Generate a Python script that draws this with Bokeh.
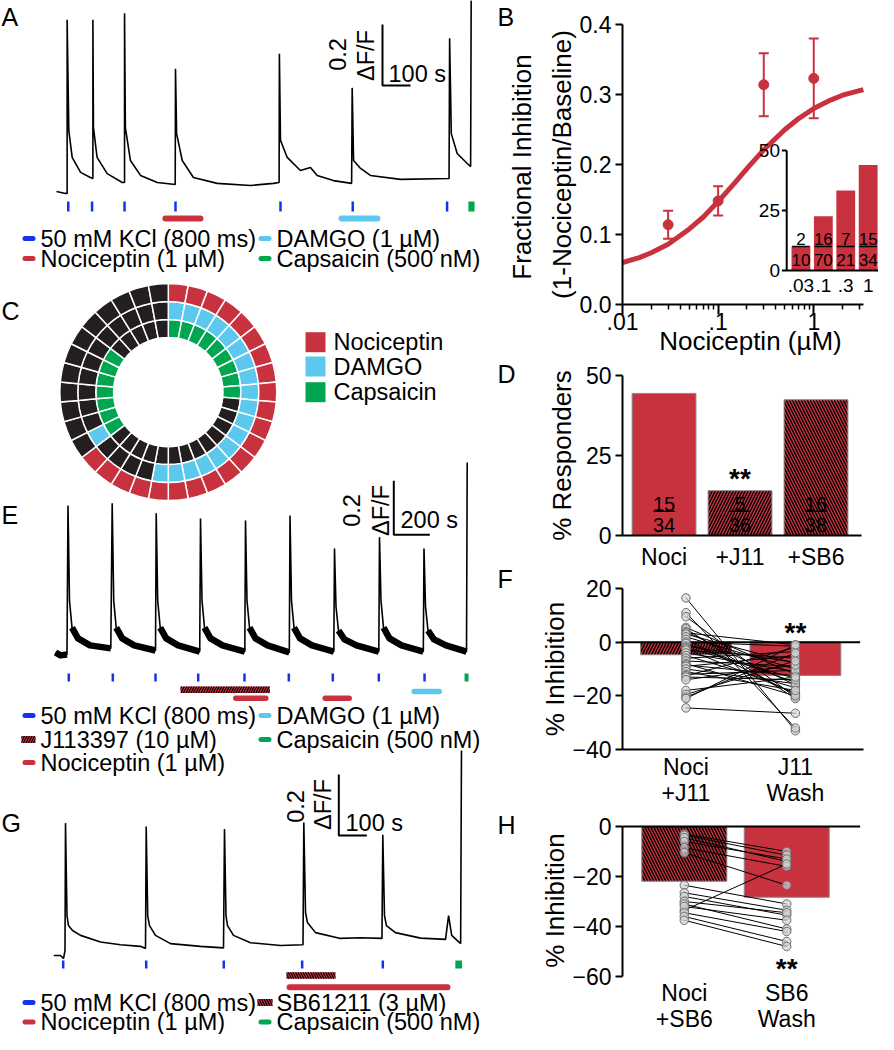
import math
from bokeh.plotting import figure
from bokeh.layouts import row, column
from bokeh.models import (Range1d, FixedTicker, Whisker, TeeHead,
                          ColumnDataSource, LinearScale)
from bokeh.core.properties import value
from bokeh.embed import file_html
from bokeh.resources import INLINE

FONT = "Liberation Sans"
RED = "#C8323F"
BLUE = "#1432F0"
LBLUE = "#5CC8EE"
GREEN = "#00A650"
DARK = "#231F20"

# ------------------------------------------------------------------ data
# Panel A : calcium trace (time in s, dF/F)
a_time = [0, 32, 38, 38, 44, 56, 86, 121, 130, 130, 132, 145, 181, 235, 243, 243, 246, 264,
          300, 360, 424, 425, 429, 449, 489, 574, 693, 775, 795, 796, 800, 824, 871, 907, 931,
          989, 1054, 1056, 1061, 1086, 1121, 1229, 1402, 1404, 1410, 1431, 1467, 1479, 1481]
a_dff = [0.003, -0.003, -0.003, 0.566, 0.203, 0.115, 0.066, 0.049, 0.046, 0.566, 0.213, 0.115,
         0.062, 0.033, 0.033, 0.588, 0.213, 0.105, 0.056, 0.033, 0.026, 0.406, 0.193, 0.105,
         0.049, 0.030, 0.023, 0.030, 0.033, 0.455, 0.171, 0.115, 0.072, 0.082, 0.056, 0.039,
         0.030, 0.343, 0.105, 0.079, 0.056, 0.043, 0.046, 0.506, 0.193, 0.128, 0.095, 0.085, 0.630]
a_kcl = [42, 127, 243, 425, 800, 1058, 1395]
a_noci = [389, 514]
a_damgo = [1018, 1146]
a_caps = [1471, 1493]

# Panel E : calcium trace
e_time = [0, 27.8, 63.9, 69.4, 77.8, 91.7, 125, 191.7, 307.2, 315, 323.4, 337.2, 370.6, 437.2,
          555.6, 559.5, 567.8, 581.7, 615, 681.7, 801.2, 805.6, 813.9, 827.8, 861.1, 927.8,
          1051.7, 1055.6, 1063.9, 1077.8, 1111.1, 1177.8, 1298.9, 1302.8, 1311.1, 1325, 1358.3,
          1425, 1546.2, 1550, 1558.3, 1572.2, 1605.6, 1672.2, 1796.2, 1800, 1808.3, 1822.2,
          1855.6, 1922.2, 2043.4, 2047.2, 2055.6, 2069.4, 2102.8, 2169.4, 2283.4, 2287.3]
e_dff = [0.004, -0.007, -0.004,
         0.548, 0.196, 0.096, 0.056, 0.030, 0.019,
         0.556, 0.196, 0.096, 0.056, 0.030, 0.011,
         0.519, 0.196, 0.096, 0.056, 0.030, 0.007,
         0.500, 0.196, 0.096, 0.056, 0.030, 0.007,
         0.493, 0.196, 0.096, 0.056, 0.030, 0.004,
         0.511, 0.196, 0.096, 0.056, 0.030, 0.007,
         0.389, 0.174, 0.085, 0.052, 0.030, 0.007,
         0.431, 0.196, 0.096, 0.056, 0.030, 0.007,
         0.389, 0.174, 0.085, 0.052, 0.030, 0.007,
         0.707]
e_kcl = [73.9, 318.4, 555.6, 792.8, 1050, 1296.2, 1540.6, 1796.2, 2050.2]
e_j11 = [694.5, 1190.6]
e_noci = [[1001.7, 1168.4], [1498.4, 1631.7]]
e_damgo = [1992.9, 2131.8]
e_caps = [2272.4, 2294.6]

# Panel G : calcium trace
g_time = [0, 23.9, 34.6, 40, 41.8, 47.1, 52.5, 66.8, 95.4, 166.8, 238.2, 309.6, 327.5, 330,
          335.4, 341.8, 363.2, 416.8, 523.9, 606.1, 609.6, 615, 620.4, 641.8, 702.5, 809.6, 890,
          892.9, 899, 906, 934.6, 1023.9, 1095.4, 1172, 1175, 1181, 1188, 1220, 1310, 1399,
          1410, 1421, 1453, 1456]
g_dff = [0, 0, -0.010, 0.016, 0.434, 0.131, 0.098, 0.082, 0.066, 0.044, 0.035, 0.030, 0.023,
         0.423, 0.131, 0.098, 0.066, 0.039, 0.030, 0.025, 0.415, 0.131, 0.098, 0.066, 0.042,
         0.033, 0.035, 0.436, 0.141, 0.108, 0.075, 0.056, 0.058, 0.056, 0.396, 0.131, 0.098,
         0.075, 0.057, 0.053, 0.131, 0.066, 0.039, 0.672]
g_kcl = [33.6, 330, 607, 887, 1175]
g_sb6 = [831, 1006]
g_noci = [842, 1406]
g_caps = [1434, 1458]

# Panel C : responder map (one cell per neuron, clockwise from 12 o'clock)
ring_noci = [1, 1, 1, 1, 1, 1, 1, 1, 1, 1, 1, 1, 1, 1, 1, 1, 1, 1, 1, 1, 1, 1,
             0, 0, 0, 0, 0, 0, 0, 0, 0, 0, 0, 0]
ring_damgo = [1, 1, 1, 1, 1, 1, 1, 1, 1, 1, 1, 1, 1, 1, 1, 1, 1, 1, 0, 0, 0, 0,
              1, 0, 0, 0, 0, 0, 0, 0, 0, 0, 0, 0]
ring_caps = [1, 1, 1, 1, 1, 1, 1, 1, 1, 0, 0, 0, 0, 0, 0, 0, 0, 0, 0, 0, 0, 0,
             1, 1, 1, 1, 1, 1, 1, 0, 0, 0, 0, 0]
c_labels = ["Nociceptin", "DAMGO", "Capsaicin"]

# Panel B : dose response
b_conc = [0.03, 0.1, 0.3, 1]
b_mean = [0.114, 0.148, 0.314, 0.323]
b_sem = [0.020, 0.021, 0.045, 0.057]
b_fit_conc = [0.01, 0.015, 0.02, 0.03, 0.05, 0.07, 0.1, 0.15, 0.2, 0.3, 0.5, 0.7, 1.0, 1.5, 2.0, 3.3]
b_fit_val = [0.060, 0.067, 0.074, 0.086, 0.108, 0.125, 0.147, 0.174, 0.194, 0.221, 0.250,
             0.266, 0.280, 0.292, 0.299, 0.307]
inset_labels = [".03", ".1", ".3", "1"]
inset_pct = [10, 22.6, 33.3, 44]
inset_num = ["2", "16", "7", "15"]
inset_den = ["10", "70", "21", "34"]

# Panel D : % responders
d_cats = ["Noci", "+J11", "+SB6"]
d_pct = [44.4, 14.0, 42.4]
d_num = ["15", "5", "16"]
d_den = ["34", "36", "38"]

# Panel F : paired % inhibition
f_cats = ["Noci\n+J11", "J11\nWash"]
f_bar = [-4.7, -12.4]
f_left = [16.5, 11, 9.5, 5.5, 5, 4, 3.5, 3, 2, 1, 0, -0.5, -1.5, -2, -2.5, -3, -4, -5, -6, -7,
          -8, -8.5, -9, -10, -11, -12, -12.5, -13, -14, -18, -19.5, -20.5, -21, -24.5]
f_right = [-33, -32, -20.5, -12, -21, -16, -1, -8, -10, -19.5, -1.5, -15, -7.5, -13.5, -19, -6,
           -11, -17, -3.5, -9, -20, -12.5, -5, -15.5, -18, -10.5, -2, -14, -8.5, -13, -7, -4,
           -1, -26.5]

# Panel H : paired % inhibition
h_cats = ["Noci\n+SB6", "SB6\nWash"]
h_bar = [-21.9, -28.3]
h_left = [-3, -3.5, -4.5, -6, -8.5, -10.5, -33.5, -23.5, -26.5, -28, -30, -31, -32, -34.5, -36, -37.5]
h_right = [-10, -11.5, -14, -13, -16, -23.5, -15, -31, -33.5, -35.5, -34.5, -41, -37.5, -42, -46, -48]

# ------------------------------------------------------------------ left column (A, C, E, G)
LW, PH = 537, 1034          # left column width, page height used


def Y(py):
    return PH - py


pL = figure(width=LW, height=PH, x_range=Range1d(0, LW), y_range=Range1d(0, PH),
            x_axis_location=None, y_axis_location=None, min_border=0,
            output_backend="svg", toolbar_location=None)
pL.grid.visible = False
pL.outline_line_color = None

# per-panel data scales: (x of t=0, s per px, y of dF/F=0, dF/F per px)
panels = {"A": (56.0, 100 / 28, 192.0, 0.2 / 61),
          "E": (55.0, 200 / 36, 653.0, 0.2 / 54),
          "G": (53.3, 100 / 28, 955.0, 0.2 / 61)}
pL.extra_x_ranges = {k: Range1d((0 - v[0]) * v[1], (LW - v[0]) * v[1]) for k, v in panels.items()}
pL.extra_y_ranges = {k: Range1d((v[2] - PH) * v[3], (v[2] - 0) * v[3]) for k, v in panels.items()}


def tx(k, px):
    return (px - panels[k][0]) * panels[k][1]


def fy(k, py):
    return (panels[k][2] - py) * panels[k][3]


def kw(k):
    return dict(x_range_name=k, y_range_name=k)


def txt(x, y, s, size="23.5px", align="left", angle=0.0):
    pL.text(x=[x], y=[Y(y)], text=[s], text_font=value(FONT), text_font_size=size,
            text_align=align, text_baseline="middle", angle=angle, text_color="black")


def trace(k, t, f, tails=False):
    pL.line(t, f, line_color="black", line_width=1.6, **kw(k))
    if tails:
        pk = [i for i, v in enumerate(f) if v > 0.25]
        starts = [0] + [p + 2 for p in pk[:-1]]
        ends = [pk[0] - 1] + [q - 1 for q in pk[1:]]
        pL.multi_line(xs=[t[s:e + 1] for s, e in zip(starts, ends)],
                      ys=[f[s:e + 1] for s, e in zip(starts, ends)],
                      line_color="black", line_width=6.5, line_join="round", **kw(k))


def ticks(k, times, py0, py1, color=BLUE, width=2.5):
    n = len(times)
    pL.segment(x0=times, x1=times, y0=[fy(k, py0)] * n, y1=[fy(k, py1)] * n,
               line_color=color, line_width=width, **kw(k))


def block(k, span, py0, py1, color, hatch=None):
    extra = dict(hatch_pattern=hatch, hatch_color="black", hatch_scale=5, hatch_weight=1.2) if hatch else {}
    pL.quad(left=[span[0]], right=[span[1]], top=[fy(k, py0)], bottom=[fy(k, py1)],
            fill_color=color, line_color=None, **extra, **kw(k))


def rbar(k, span, py, color, width=6):
    pL.segment(x0=[span[0]], x1=[span[1]], y0=[fy(k, py)], y1=[fy(k, py)],
               line_color=color, line_width=width, line_cap="round", **kw(k))


def scalebar(k, px, py, dt, df):
    t0, f0 = tx(k, px), fy(k, py)
    pL.line([t0, t0, t0 + dt], [f0 + df, f0, f0], line_color="black", line_width=2, **kw(k))


def legend_item(kind, color, x0, x1, xt, py, label):
    if kind == "dash":
        pL.segment(x0=[x0 + 2.5], x1=[x1 - 2.5], y0=[Y(py)], y1=[Y(py)], line_color=color,
                   line_width=5, line_cap="round")
    else:
        pL.quad(left=[x0], right=[x1], top=[Y(py - 3.5)], bottom=[Y(py + 3.5)], fill_color=RED,
                line_color=None, hatch_pattern=kind, hatch_color="black", hatch_scale=5,
                hatch_weight=1.2)
    txt(xt, py, label)


COL0 = (22, 35, 40)
COL1 = (258, 271, 276)

# ---- A
txt(1, 16, "A", size="25px")
trace("A", a_time, a_dff)
ticks("A", a_kcl, 201, 211)
block("A", a_caps, 201, 211, GREEN)
rbar("A", a_noci, 218, RED)
rbar("A", a_damgo, 218, LBLUE)
scalebar("A", 382, 85, 100, 0.2)
txt(337, 54, "0.2", align="center", angle=math.pi / 2)
txt(365, 55, "ΔF/F", align="center", angle=math.pi / 2)
txt(388, 73, "100 s")
legend_item("dash", BLUE, *COL0, 238, "50 mM KCl (800 ms)")
legend_item("dash", LBLUE, *COL1, 238, "DAMGO (1 µM)")
legend_item("dash", RED, *COL0, 258, "Nociceptin (1 µM)")
legend_item("dash", GREEN, *COL1, 258, "Capsaicin (500 nM)")

# ---- C donut
txt(1, 310, "C", size="25px")
N = len(ring_noci)
dang = 2 * math.pi / N
cd = dict(x=[], y=[], ri=[], ro=[], sa=[], ea=[], c=[])
for ring, colr, ri, ro in [(ring_caps, GREEN, 54.7, 72.5), (ring_damgo, LBLUE, 72.5, 90.5),
                           (ring_noci, RED, 90.5, 108.5)]:
    for i, r in enumerate(ring):
        cd["x"].append(167.8)
        cd["y"].append(Y(391.6))
        cd["ri"].append(ri)
        cd["ro"].append(ro)
        cd["sa"].append(math.pi / 2 - (i + 1) * dang)
        cd["ea"].append(math.pi / 2 - i * dang)
        cd["c"].append(colr if r else DARK)
pL.annular_wedge(x="x", y="y", inner_radius="ri", outer_radius="ro", start_angle="sa",
                 end_angle="ea", inner_radius_units="screen", outer_radius_units="screen",
                 fill_color="c", line_color="white", line_width=1.5, source=ColumnDataSource(cd))
for lab, colr, py in zip(c_labels, [RED, LBLUE, GREEN], [341.7, 366, 391.7]):
    pL.quad(left=[305], right=[325], top=[Y(py - 10)], bottom=[Y(py + 10)], fill_color=colr,
            line_color=None)
    txt(333, py, lab)

# ---- E
txt(1, 514, "E", size="25px")
trace("E", e_time, e_dff, tails=True)
ticks("E", e_kcl, 673, 681)
block("E", e_caps, 673, 681, GREEN)
block("E", e_j11, 686, 692.5, RED, hatch="/")
for sp in e_noci:
    rbar("E", sp, 697.7, RED, 5.5)
rbar("E", e_damgo, 691, LBLUE, 5.5)
scalebar("E", 393.3, 534.3, 200, 0.2)
txt(350.7, 510, "0.2", align="center", angle=math.pi / 2)
txt(380, 510, "ΔF/F", align="center", angle=math.pi / 2)
txt(400, 519, "200 s")
legend_item("dash", BLUE, *COL0, 715, "50 mM KCl (800 ms)")
legend_item("dash", LBLUE, *COL1, 715, "DAMGO (1 µM)")
legend_item("/", RED, 21, 35, 40, 739, "J113397 (10 µM)")
legend_item("dash", GREEN, *COL1, 739, "Capsaicin (500 nM)")
legend_item("dash", RED, *COL0, 762, "Nociceptin (1 µM)")

# ---- G
txt(1, 822, "G", size="25px")
trace("G", g_time, g_dff)
ticks("G", g_kcl, 960, 968)
block("G", g_caps, 960, 968, GREEN)
block("G", g_sb6, 971.7, 978.3, RED, hatch="\\")
rbar("G", g_noci, 986.7, RED)
scalebar("G", 338.3, 835, 100, 0.2)
txt(295, 806, "0.2", align="center", angle=math.pi / 2)
txt(322, 804, "ΔF/F", align="center", angle=math.pi / 2)
txt(345, 822, "100 s")
legend_item("dash", BLUE, *COL0, 1002, "50 mM KCl (800 ms)")
legend_item("\\", RED, 257, 272, 276, 1002, "SB61211 (3 µM)")
legend_item("dash", RED, *COL0, 1021.5, "Nociceptin (1 µM)")
legend_item("dash", GREEN, *COL1, 1021.5, "Capsaicin (500 nM)")

# right-column panel letters and first line of B's y label
for s, py in zip(["B", "D", "F", "H"], [16.5, 373.5, 578.5, 824.5]):
    txt(497, py, s, size="25px")
txt(521.7, 166.5, "Fractional Inhibition", size="26px", align="center", angle=math.pi / 2)

# ------------------------------------------------------------------ right column
RX0, RX1 = LW, 878
RW = RX1 - RX0
FL = 613  # x of the y axes


def style(p):
    for ax in p.axis:
        ax.axis_line_width = 2
        ax.axis_line_color = "black"
        ax.major_tick_line_width = 2
        ax.major_tick_line_color = "black"
        ax.major_tick_in = 0
        ax.major_tick_out = 7
        ax.minor_tick_line_color = None
        ax.major_label_text_font = FONT
        ax.major_label_text_font_size = "23px"
        ax.major_label_text_color = "black"
        ax.axis_label_text_font = FONT
        ax.axis_label_text_font_size = "26px"
        ax.axis_label_text_font_style = "normal"
        ax.axis_label_text_color = "black"
        ax.major_label_standoff = 4
    p.grid.visible = False
    p.outline_line_color = None


def ptxt(p, x, y, s, size="20px", align="center", bold=False, **k):
    p.text(x=x, y=y, text=s, text_font=value(FONT), text_font_size=size, text_align=align,
           text_baseline="middle", text_color="black",
           text_font_style="bold" if bold else "normal", **k)


def mkfig(height, top, bottom, xr, yr, **extra):
    return figure(width=RW, height=height, x_range=xr, y_range=yr, min_border_left=FL - RX0,
                  min_border_right=0, min_border_top=top, min_border_bottom=bottom,
                  output_backend="svg", toolbar_location=None, **extra)


# ---- B
BDEC = 99.0
pB = mkfig(362, 24, 58, Range1d(0.01, 10 ** (-2 + (RX1 - FL) / BDEC)), Range1d(0, 0.4),
           x_axis_type="log")
style(pB)
pB.line(b_fit_conc, b_fit_val, line_color=RED, line_width=5)
bsrc = ColumnDataSource(dict(x=b_conc, y=b_mean, up=[m + s for m, s in zip(b_mean, b_sem)],
                             lo=[m - s for m, s in zip(b_mean, b_sem)]))
pB.add_layout(Whisker(source=bsrc, base="x", upper="up", lower="lo", line_color=RED, line_width=2,
                      upper_head=TeeHead(size=10, line_color=RED, line_width=2),
                      lower_head=TeeHead(size=10, line_color=RED, line_width=2)))
pB.scatter("x", "y", source=bsrc, size=10, color=RED)
pB.yaxis.ticker = FixedTicker(ticks=[0, 0.1, 0.2, 0.3, 0.4])
pB.yaxis.major_label_overrides = {0: "0.0", 0.1: "0.1", 0.2: "0.2", 0.3: "0.3", 0.4: "0.4"}
pB.yaxis.axis_label = "(1-Nociceptin/Baseline)"
pB.yaxis.axis_label_standoff = 0
pB.xaxis.ticker = FixedTicker(ticks=[0.01, 0.1, 1],
                              minor_ticks=[0.02, 0.03, 0.04, 0.05, 0.06, 0.07, 0.08, 0.09,
                                           0.2, 0.3, 0.4, 0.5, 0.6, 0.7, 0.8, 0.9, 2, 3])
pB.xaxis.major_label_overrides = {0.01: ".01", 0.1: ".1", 1: "1"}
pB.xaxis.bounds = (0.01, 3.3)
pB.xaxis.major_tick_out = 10
pB.xaxis.minor_tick_line_color = "black"
pB.xaxis.minor_tick_line_width = 1.5
pB.xaxis.minor_tick_out = 5
pB.xaxis.minor_tick_in = 0
pB.xaxis.major_label_standoff = -2
pB.xaxis.axis_label = "Nociceptin (µM)"
pB.xaxis.axis_label_standoff = -7

# inset (percent responders per concentration)
IX0, IDX, IY0, IPX = 797.7, 23.2, 270.0, 2.4
pB.extra_x_ranges = {"ix": Range1d((FL - IX0) / IDX, (RX1 - IX0) / IDX)}
pB.extra_y_ranges = {"iy": Range1d((IY0 - 304) / IPX, (IY0 - 24) / IPX)}
pB.extra_x_scales = {"ix": LinearScale()}
pB.extra_y_scales = {"iy": LinearScale()}
ik = dict(x_range_name="ix", y_range_name="iy")
ipos = list(range(len(inset_labels)))
ax_x = (783 - IX0) / IDX
pB.vbar(x=ipos, top=inset_pct, width=0.84, fill_color=RED, line_color=None, **ik)
pB.line([ax_x, ax_x], [0, 50], line_color="black", line_width=2, **ik)
pB.line([ax_x, (RX1 - IX0) / IDX], [0, 0], line_color="black", line_width=2, **ik)
pB.segment(x0=[ax_x] * 3, x1=[ax_x - 5 / IDX] * 3, y0=[0, 25, 50], y1=[0, 25, 50],
           line_color="black", line_width=2, **ik)
ptxt(pB, [ax_x - 7 / IDX] * 3, [0, 25, 50], ["0", "25", "50"], size="19px", align="right", **ik)
ptxt(pB, ipos, [-6.3] * 4, inset_labels, size="19px", **ik)
ptxt(pB, ipos, [13.2] * 4, inset_num, size="17px", **ik)
ptxt(pB, ipos, [4.2] * 4, inset_den, size="17px", **ik)
pB.segment(x0=[i - 0.39 for i in ipos], x1=[i + 0.39 for i in ipos], y0=[10] * 4, y1=[10] * 4,
           line_color="black", line_width=1.5, **ik)

# ---- D
DSP = 78.65
dpos = list(range(1, len(d_cats) + 1))
dx0 = 1 - (656 - FL) / DSP
pD = mkfig(572 - 362, 13, 36, Range1d(dx0, 1 + (RX1 - 656) / DSP), Range1d(0, 50))
style(pD)
pD.vbar(x=dpos, top=d_pct, width=0.84, fill_color=RED, line_color="#8a8a8a", line_width=1,
        hatch_pattern=["blank", "/", "\\"], hatch_color="black", hatch_scale=6, hatch_weight=1.4)
ptxt(pD, dpos, [10.0] * 3, d_num)
ptxt(pD, dpos, [3.35] * 3, d_den)
pD.segment(x0=[x - 0.14 for x in dpos], x1=[x + 0.14 for x in dpos], y0=[7.6] * 3, y1=[7.6] * 3,
           line_color="black", line_width=1.5)
ptxt(pD, [2], [17.7], ["**"], size="28px", bold=True)
pD.yaxis.ticker = FixedTicker(ticks=[0, 25, 50])
pD.yaxis.axis_label = "% Responders"
pD.yaxis.axis_label_standoff = 6
pD.xaxis.ticker = FixedTicker(ticks=dpos)
pD.xaxis.bounds = (dx0, 1 + (860 - 656) / DSP)
pD.xaxis.major_label_overrides = {i: c for i, c in zip(dpos, d_cats)}
pD.xaxis.major_tick_out = 0
pD.xaxis.major_tick_line_color = None
pD.xaxis.major_label_standoff = 8


# ---- F and H (paired data)
def paired(height, top, bottom, c0, sp, axis_end, zero_end, yr, cats, bars, left, right,
           ticks_y, bounds, hatch, star_y):
    x0 = 1 - (c0 - FL) / sp
    p = mkfig(height, top, bottom, Range1d(x0, 1 + (RX1 - c0) / sp), yr)
    style(p)
    pos = list(range(1, len(cats) + 1))
    p.vbar(x=pos, top=[0] * len(pos), bottom=bars, width=0.83, fill_color=RED,
           line_color="#8a8a8a", line_width=1, hatch_pattern=[hatch, "blank"],
           hatch_color="black", hatch_scale=6, hatch_weight=1.4)
    p.segment(x0=[x0], x1=[1 + (zero_end - c0) / sp], y0=[0], y1=[0], line_color="black",
              line_width=2)
    p.multi_line(xs=[pos for _ in left], ys=[[a, b] for a, b in zip(left, right)],
                 line_color="black", line_width=1)
    p.scatter([pos[0]] * len(left) + [pos[1]] * len(right), left + right, size=8.5,
              fill_color="#d2d2d2", fill_alpha=0.7, line_color="#6e6e6e", line_width=1)
    ptxt(p, [pos[1]], [star_y], ["**"], size="28px", bold=True)
    p.yaxis.ticker = FixedTicker(ticks=ticks_y)
    p.yaxis.bounds = bounds
    p.yaxis.axis_label = "% Inhibition"
    p.yaxis.axis_label_standoff = -1
    p.xaxis.ticker = FixedTicker(ticks=pos)
    p.xaxis.bounds = (x0, 1 + (axis_end - c0) / sp)
    p.xaxis.major_label_overrides = {i: c for i, c in zip(pos, cats)}
    p.xaxis.major_tick_out = 0
    p.xaxis.major_tick_line_color = None
    p.xaxis.major_label_text_line_height = 1.0
    return p


pF = paired(808 - 572, 16, 55, 678.7, 113.3, 862, 859, Range1d(-40, 20), f_cats,
            f_bar, f_left, f_right, [-40, -20, 0, 20], (-40, 20), "/", 3.5)
pF.xaxis.major_label_standoff = 4

HS = (978 - 826) / 60
pH = paired(PH - 808, 16, PH - 978, 677, 106, 859, 859, Range1d(-60, (826 - 824) / HS), h_cats,
            h_bar, h_left, h_right, [-60, -40, -20, 0], (-60, 0), "\\", -57.0)
pH.xaxis.axis_line_color = None
pH.xaxis.major_label_standoff = 3

layout = row(pL, column(pB, pD, pF, pH, spacing=0), spacing=0)
open("out.html", "w").write(file_html(layout, INLINE))
